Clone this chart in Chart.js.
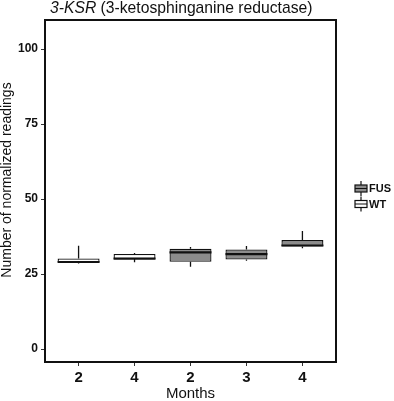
<!DOCTYPE html>
<html>
<head>
<meta charset="utf-8">
<script src="https://cdn.jsdelivr.net/npm/chart.js@4.4.1/dist/chart.umd.min.js"></script>
<style>
html, body { margin: 0; padding: 0; background: #fff; }
#wrap { width: 394px; height: 401px; }
</style>
</head>
<body>
<div id="wrap"><canvas id="myChart"></canvas></div>
<script>
// box plot values
const monthLabels = ['2', '4', '2', '3', '4'];
const groups = ['WT', 'WT', 'FUS', 'FUS', 'FUS'];
const lowWhisker = [28.5, 28.9, 27.4, 29.4, 33.6];
const q1 = [28.8, 30.0, 29.1, 29.8, 34.2];
const medians = [29.0, 30.1, 32.2, 31.6, 34.5];
const q3 = [30.2, 31.7, 33.4, 33.2, 36.3];
const highWhisker = [34.4, 32.0, 34.0, 34.3, 39.3];
const yTicks = [0, 25, 50, 75, 100];
const legendNames = ['FUS', 'WT'];

const fills = { FUS: '#8c8c8c', WT: '#ffffff' };
const FONT = "'Liberation Sans', Arial, sans-serif";

const makeData = (g) => monthLabels.map((m, i) => groups[i] === g ? { x: i, y: [q1[i], q3[i]] } : null).filter(d => d);

// whiskers, medians, frame, titles and legend
const boxExtras = {
    id: 'boxExtras',
    afterDatasetsDraw(chart) {
        const { ctx, scales: { x, y } } = chart;
        const half = 0.75 * (x.getPixelForValue(1) - x.getPixelForValue(0)) / 2;
        ctx.save();
        ctx.strokeStyle = '#111';
        for (let i = 0; i < monthLabels.length; i++) {
            const cx = x.getPixelForValue(i);
            ctx.lineWidth = 1.3;
            ctx.beginPath();
            ctx.moveTo(cx, y.getPixelForValue(q3[i]));
            ctx.lineTo(cx, y.getPixelForValue(highWhisker[i]));
            ctx.moveTo(cx, y.getPixelForValue(q1[i]));
            ctx.lineTo(cx, y.getPixelForValue(lowWhisker[i]));
            ctx.stroke();
            ctx.lineWidth = 2.2;
            ctx.beginPath();
            ctx.moveTo(cx - half, y.getPixelForValue(medians[i]));
            ctx.lineTo(cx + half, y.getPixelForValue(medians[i]));
            ctx.stroke();
        }
        ctx.restore();
    },
    afterDraw(chart) {
        const { ctx, chartArea: a } = chart;
        ctx.save();
        // panel frame
        ctx.strokeStyle = '#111';
        ctx.lineWidth = 2;
        ctx.strokeRect(a.left, a.top, a.right - a.left, a.bottom - a.top);

        // title, gene name in italics
        ctx.fillStyle = '#111';
        ctx.textBaseline = 'alphabetic';
        ctx.textAlign = 'left';
        ctx.font = 'italic 15.7px ' + FONT;
        const tx = 50, ty = 13;
        ctx.fillText('3-KSR', tx, ty);
        const w = ctx.measureText('3-KSR').width;
        ctx.font = '15.7px ' + FONT;
        ctx.fillText(' (3-ketosphinganine reductase)', tx + w, ty);

        // y axis title
        ctx.save();
        ctx.translate(11, 180);
        ctx.rotate(-Math.PI / 2);
        ctx.textAlign = 'center';
        ctx.font = '14px ' + FONT;
        ctx.fillText('Number of normalized readings', 0, 0);
        ctx.restore();

        // legend
        const rows = [188.5, 204];
        legendNames.forEach((name, k) => {
            const cy = rows[k];
            ctx.fillStyle = fills[name];
            ctx.fillRect(355, cy - 3.5, 12, 7);
            ctx.strokeStyle = '#111';
            ctx.lineWidth = 1.2;
            ctx.strokeRect(355, cy - 3.5, 12, 7);
            ctx.beginPath();
            ctx.moveTo(361, cy - 7.5); ctx.lineTo(361, cy - 3.5);
            ctx.moveTo(361, cy + 3.5); ctx.lineTo(361, cy + 7.5);
            ctx.moveTo(355, cy); ctx.lineTo(367, cy);
            ctx.stroke();
            ctx.fillStyle = '#111';
            ctx.font = 'bold 11px ' + FONT;
            ctx.textBaseline = 'middle';
            ctx.fillText(name, 369, cy + 0.5);
        });
        ctx.restore();
    }
};

const ctx = document.getElementById('myChart');

const config = {
    type: 'bar',
    data: {
        datasets: legendNames.map(g => ({
            label: g,
            data: makeData(g),
            backgroundColor: fills[g],
            borderColor: '#111',
            borderWidth: 1.3,
            borderSkipped: false,
            grouped: false,
            barPercentage: 0.75,
            categoryPercentage: 1
        }))
    },
    options: {
        responsive: true,
        maintainAspectRatio: false,
        animation: false,
        layout: { padding: { top: 20, right: 58, left: 0, bottom: 0 } },
        plugins: {
            legend: { display: false },
            tooltip: { enabled: false },
            title: { display: false }
        },
        scales: {
            x: {
                type: 'linear',
                offset: false,
                min: -0.6,
                max: 4.6,
                afterBuildTicks(scale) {
                    scale.ticks = monthLabels.map((m, i) => ({ value: i }));
                },
                afterFit(scale) { scale.height = 39; },
                ticks: {
                    color: '#111',
                    padding: 3,
                    font: { family: FONT, size: 15, weight: 'bold' },
                    callback: (v) => monthLabels[v]
                },
                grid: { drawOnChartArea: false, offset: false, tickLength: 4, color: '#333' },
                border: { display: true, color: '#111', width: 2 },
                title: {
                    display: true,
                    text: 'Months',
                    color: '#111',
                    padding: { top: 0, bottom: 0 },
                    font: { family: FONT, size: 15, lineHeight: 0.9 }
                }
            },
            y: {
                min: -4.33,
                max: 109.67,
                afterBuildTicks(scale) {
                    scale.ticks = yTicks.map(v => ({ value: v }));
                },
                afterFit(scale) { scale.width = 45; },
                ticks: {
                    color: '#111',
                    padding: 3,
                    font: { family: FONT, size: 12, weight: 'bold' }
                },
                grid: { drawOnChartArea: false, tickLength: 4, color: '#333' },
                border: { display: true, color: '#111', width: 2 },
                title: { display: false }
            }
        }
    },
    plugins: [boxExtras]
};

const chart = new Chart(ctx, config);
</script>
</body>
</html>
